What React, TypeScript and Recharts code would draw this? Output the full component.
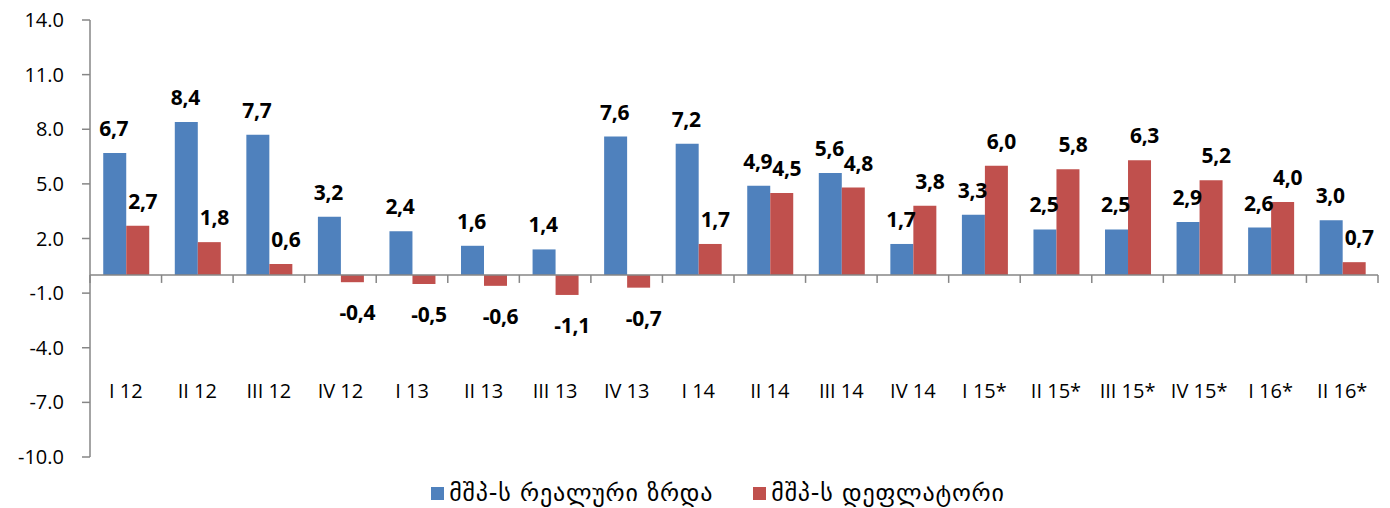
import React from 'react';
import { BarChart, Bar, XAxis, YAxis, ReferenceLine, Legend, LabelList } from 'recharts';

const categories = ['I 12', 'II 12', 'III 12', 'IV 12', 'I 13', 'II 13', 'III 13', 'IV 13', 'I 14', 'II 14', 'III 14', 'IV 14', 'I 15*', 'II 15*', 'III 15*', 'IV 15*', 'I 16*', 'II 16*'];
const realGrowth = [6.7, 8.4, 7.7, 3.2, 2.4, 1.6, 1.4, 7.6, 7.2, 4.9, 5.6, 1.7, 3.3, 2.5, 2.5, 2.9, 2.6, 3.0];
const deflator = [2.7, 1.8, 0.6, -0.4, -0.5, -0.6, -1.1, -0.7, 1.7, 4.5, 4.8, 3.8, 6.0, 5.8, 6.3, 5.2, 4.0, 0.7];
const yTicks = [-10, -7, -4, -1, 2, 5, 8, 11, 14];
const seriesNames = ['მშპ-ს რეალური ზრდა', 'მშპ-ს დეფლატორი'];

const data = categories.map((c, i) => ({ cat: c, real: realGrowth[i], defl: deflator[i] }));

const W = 1390;
const H = 508;
const X_AXIS_H = 1;
const LEGEND_H = 30;
const M = { top: 20, right: 12, bottom: 20, left: 0 };
const Y_MIN = -10;
const Y_MAX = 14;
const PLOT_TOP = M.top;
const PLOT_H = H - M.top - M.bottom - LEGEND_H - X_AXIS_H;
const valToPx = (v: number) => PLOT_TOP + ((Y_MAX - v) / (Y_MAX - Y_MIN)) * PLOT_H;
const LABEL_ROW_VALUE = -6.35;

const BLUE = '#4F81BD';
const RED = '#C0504D';
const AXIS = '#868686';
const FONT = '"Open Sans", "DejaVu Sans", sans-serif';

const fmt = (v: number) => v.toFixed(1).replace('.', ',');

const CategoryTick = (props: any) => {
  const { x, payload, index } = props;
  const half = payload && payload.offset ? payload.offset : (W - 90 - M.right) / categories.length / 2;
  const zeroY = valToPx(0);
  const labelY = valToPx(LABEL_ROW_VALUE);
  return (
    <g>
      <line x1={x - half} x2={x - half} y1={zeroY} y2={zeroY + 8} stroke={AXIS} strokeWidth={1.5} />
      {index === categories.length - 1 && (
        <line x1={x + half} x2={x + half} y1={zeroY} y2={zeroY + 8} stroke={AXIS} strokeWidth={1.5} />
      )}
      <text x={x} y={labelY} textAnchor="middle" dominantBaseline="central" fontSize={20} fontFamily={FONT} fill="#000">
        {payload.value}
      </text>
    </g>
  );
};

const makeValueLabel = (dx: number) => (props: any) => {
  const { x, y, width, height, value } = props;
  const top = Math.min(y, y + height);
  const bottom = Math.max(y, y + height);
  const cy = value >= 0 ? top - 25 : bottom + 30;
  return (
    <text x={x + width / 2 + dx} y={cy} textAnchor="middle" dominantBaseline="central" fontSize={21} fontWeight="bold" fontFamily={FONT} fill="#000" letterSpacing={-0.3}>
      {fmt(value)}
    </text>
  );
};
const BlueLabel = makeValueLabel(-1);
const RedLabel = makeValueLabel(5);

const LegendContent = () => (
  <div style={{ height: LEGEND_H, display: 'flex', justifyContent: 'center', alignItems: 'center', fontSize: 24, color: '#000', paddingLeft: 46, boxSizing: 'border-box' }}>
    {[BLUE, RED].map((c, i) => (
      <div key={i} style={{ display: 'flex', alignItems: 'center', marginLeft: i === 0 ? 0 : 40 }}>
        <span style={{ display: 'inline-block', width: 13, height: 13, background: c, marginRight: 5 }} />
        <span style={{ fontFamily: '"DejaVu Sans", sans-serif', letterSpacing: 0.8, lineHeight: '30px' }}>{seriesNames[i]}</span>
      </div>
    ))}
  </div>
);

export default function App() {
  return (
    <div style={{ position: 'absolute', left: 0, top: 0, width: W, height: H, background: '#fff' }}>
      <BarChart width={W} height={H} data={data} margin={M} barCategoryGap="18.5%" barGap={0}>
        <XAxis dataKey="cat" axisLine={false} tickLine={false} tick={<CategoryTick />} interval={0} height={X_AXIS_H} />
        <YAxis
          domain={[Y_MIN, Y_MAX]}
          ticks={yTicks}
          type="number"
          allowDataOverflow
          width={90}
          tickFormatter={(v: number) => v.toFixed(1)}
          tick={{ fontSize: 20, fontFamily: FONT, fill: '#000' }}
          tickSize={8}
          tickMargin={18}
          axisLine={{ stroke: AXIS, strokeWidth: 1.5 }}
          tickLine={{ stroke: AXIS, strokeWidth: 1.5 }}
        />
        <ReferenceLine y={0} stroke={AXIS} strokeWidth={1.5} />
        <Bar dataKey="real" name={seriesNames[0]} fill={BLUE} isAnimationActive={false}>
          <LabelList dataKey="real" content={<BlueLabel />} />
        </Bar>
        <Bar dataKey="defl" name={seriesNames[1]} fill={RED} isAnimationActive={false}>
          <LabelList dataKey="defl" content={<RedLabel />} />
        </Bar>
        <Legend verticalAlign="bottom" height={LEGEND_H} content={<LegendContent />} wrapperStyle={{ bottom: 0, left: 0, width: W }} />
      </BarChart>
    </div>
  );
}
